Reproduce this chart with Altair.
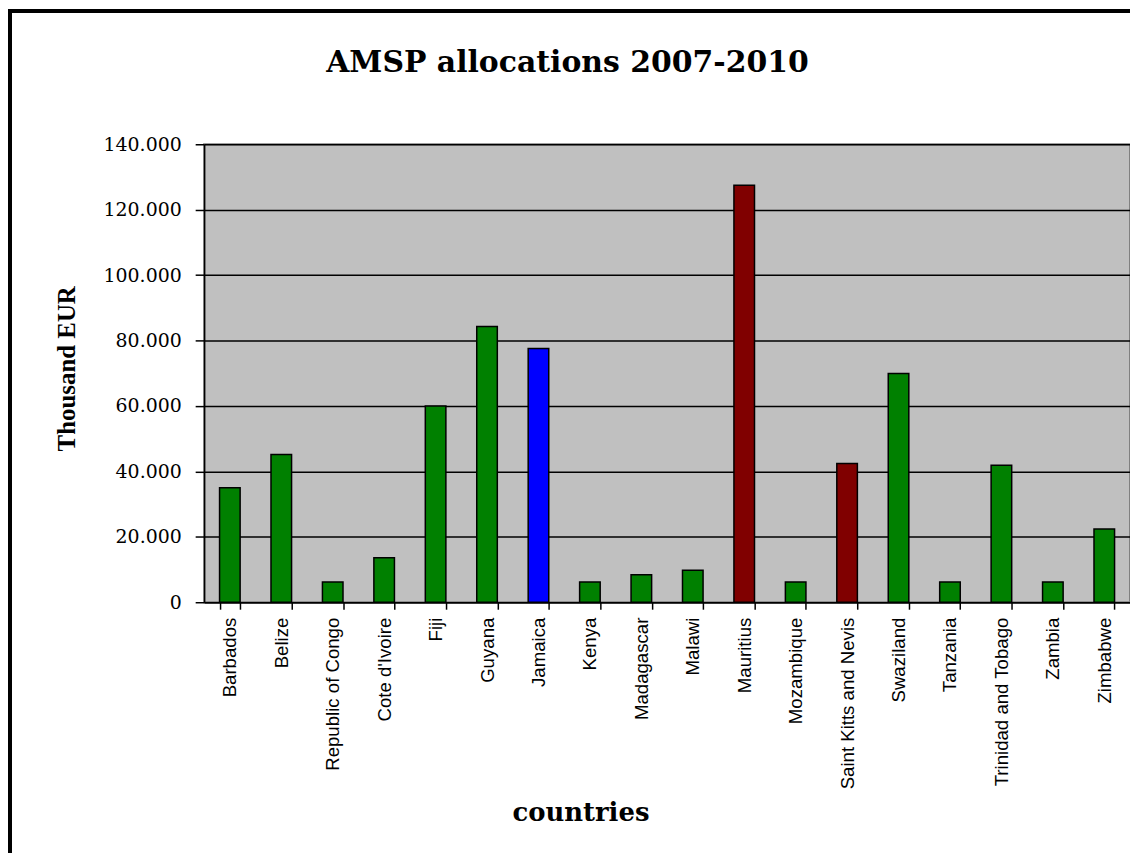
import altair as alt
import pandas as pd

countries = ["Barbados", "Belize", "Republic of Congo", "Cote d'Ivoire", "Fiji", "Guyana",
             "Jamaica", "Kenya", "Madagascar", "Malawi", "Mauritius", "Mozambique",
             "Saint Kitts and Nevis", "Swaziland", "Tanzania", "Trinidad and Tobago",
             "Zambia", "Zimbabwe"]
values = [35000, 45200, 6200, 13600, 60000, 84300, 77600, 6200, 8400, 9800, 127500, 6200,
          42400, 69900, 6200, 41900, 6200, 22400]
groups = ["g", "g", "g", "g", "g", "g", "b", "g", "g", "g", "r", "g",
          "r", "g", "g", "g", "g", "g"]

df = pd.DataFrame({"country": countries, "value": values, "group": groups})

bars = alt.Chart(df).mark_bar(stroke="black", strokeWidth=1.5).encode(
    x=alt.X("country:N", sort=countries,
            scale=alt.Scale(paddingInner=0.6, paddingOuter=0.3),
            axis=alt.Axis(title="countries", labelAngle=-90, labelAlign="right",
                          labelBaseline="middle", labelFont="Liberation Sans",
                          labelFontSize=18.7, labelColor="black", labelPadding=8,
                          labelLimit=0, labelOverlap=False,
                          tickBand="extent", tickSize=7, tickColor="black", tickWidth=1.5,
                          domainColor="black", domainWidth=1.5, grid=False,
                          titleFont="DejaVu Serif", titleFontSize=26, titleFontWeight="bold",
                          titleColor="black", titleX=378, titleY=219,
                          titleAlign="center", titleBaseline="alphabetic")),
    y=alt.Y("value:Q", scale=alt.Scale(domain=[0, 140000]),
            axis=alt.Axis(title="Thousand EUR", values=list(range(0, 140001, 20000)),
                          labelExpr="replace(format(datum.value, ','), ',', '.')",
                          labelFont="DejaVu Serif", labelFontSize=19, labelColor="black",
                          labelPadding=14, tickSize=9, tickColor="black", tickWidth=1.5,
                          domainColor="black", domainWidth=1.5,
                          gridColor="black", gridWidth=1.5, gridOpacity=1,
                          titleFont="Liberation Serif", titleFontSize=25, titleFontWeight="bold",
                          titleColor="black", titleX=-138, titleY=225, titleAngle=-90,
                          titleAlign="center", titleBaseline="middle")),
    color=alt.Color("group:N", scale=alt.Scale(domain=["g", "b", "r"],
                                               range=["#008000", "#0000FF", "#800000"]),
                    legend=None),
)

border = alt.Chart(df).mark_rect(filled=False, stroke="black", strokeWidth=3).encode(
    x=alt.value(-195), x2=alt.value(1100), y=alt.value(-134), y2=alt.value(1000)
)

chart = alt.layer(bars, border).properties(
    width=930, height=460,
    background="white",
    title=alt.TitleParams("AMSP allocations 2007-2010", font="DejaVu Serif", fontSize=30,
                          fontWeight="bold", color="black", anchor="middle", dx=-100,
                          baseline="alphabetic", offset=-93),
    autosize=alt.AutoSizeParams(type="none"),
    padding={"left": 197, "top": 135, "right": 0, "bottom": 250},
).configure_view(fill="#C0C0C0", stroke="#808080", strokeWidth=2)

chart.save("out.html", embed_options={"renderer": "svg", "actions": False})
